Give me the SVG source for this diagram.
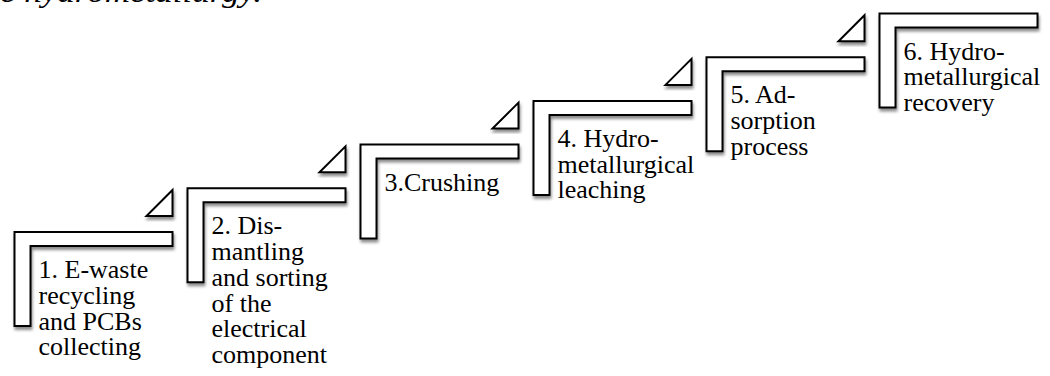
<svg xmlns="http://www.w3.org/2000/svg" width="1050" height="376" viewBox="0 0 1050 376">
<defs>
<filter id="sh" x="-10%" y="-10%" width="130%" height="130%">
<feDropShadow dx="1" dy="3" stdDeviation="1.8" flood-color="#000" flood-opacity="0.45"/>
</filter>
<path id="ell" d="M0,0 H158 V14 H16 V94 H0 Z"/>
<path id="tri" d="M158,-42 V-16 H132 Z"/>
</defs>
<style>
.shape{fill:#fff;stroke:#000;stroke-width:2;stroke-linejoin:miter;filter:url(#sh)}
.lbl{font-family:"Liberation Serif","Times New Roman",serif;font-size:26px;fill:#000}
.top{font-family:"Liberation Serif","Times New Roman",serif;font-size:30px;font-style:italic;fill:#000}
</style>
<rect width="1050" height="376" fill="#fff"/>
<text class="top" x="0" y="2" textLength="262" lengthAdjust="spacingAndGlyphs">e hydrometallurgy.</text>
<g id="connectors">
<use href="#tri" class="shape" transform="translate(14.5,232)"/>
<use href="#tri" class="shape" transform="translate(187.5,188.3)"/>
<use href="#tri" class="shape" transform="translate(360.5,144.6)"/>
<use href="#tri" class="shape" transform="translate(533.5,100.9)"/>
<use href="#tri" class="shape" transform="translate(706.5,57.2)"/>
</g>
<g id="step1" transform="translate(14.5,232)">
<use href="#ell" class="shape"/>
<text class="lbl" x="24" y="46"><tspan x="24">1. E-waste</tspan><tspan x="24" dy="25.8">recycling</tspan><tspan x="24" dy="25.8">and PCBs</tspan><tspan x="24" dy="25.8">collecting</tspan></text>
</g>
<g id="step2" transform="translate(187.5,188.3)">
<use href="#ell" class="shape"/>
<text class="lbl" x="24" y="46"><tspan x="24">2. Dis-</tspan><tspan x="24" dy="25.8">mantling</tspan><tspan x="24" dy="25.8">and sorting</tspan><tspan x="24" dy="25.8">of the</tspan><tspan x="24" dy="25.8">electrical</tspan><tspan x="24" dy="25.8">component</tspan></text>
</g>
<g id="step3" transform="translate(360.5,144.6)">
<use href="#ell" class="shape"/>
<text class="lbl" x="24" y="46">3.Crushing</text>
</g>
<g id="step4" transform="translate(533.5,100.9)">
<use href="#ell" class="shape"/>
<text class="lbl" x="24" y="46"><tspan x="24">4. Hydro-</tspan><tspan x="24" dy="25.8">metallurgical</tspan><tspan x="24" dy="25.8">leaching</tspan></text>
</g>
<g id="step5" transform="translate(706.5,57.2)">
<use href="#ell" class="shape"/>
<text class="lbl" x="24" y="46"><tspan x="24">5. Ad-</tspan><tspan x="24" dy="25.8">sorption</tspan><tspan x="24" dy="25.8">process</tspan></text>
</g>
<g id="step6" transform="translate(879.5,13.5)">
<use href="#ell" class="shape"/>
<text class="lbl" x="24" y="46"><tspan x="24">6. Hydro-</tspan><tspan x="24" dy="25.8">metallurgical</tspan><tspan x="24" dy="25.8">recovery</tspan></text>
</g>
</svg>
